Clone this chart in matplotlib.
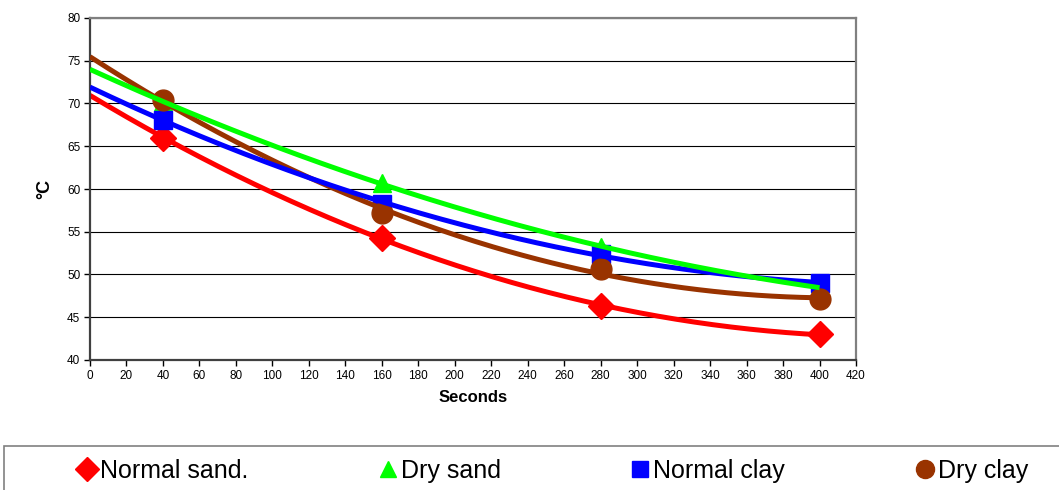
import numpy as np
import matplotlib
matplotlib.use("Agg")
import matplotlib.pyplot as plt
from matplotlib.lines import Line2D
from matplotlib.patches import Rectangle

plt.rcParams['font.family'] = ['Liberation Sans', 'DejaVu Sans']

# data
seconds = [40, 160, 280, 400]
normal_sand = [66.0, 54.3, 46.3, 43.0]
dry_sand = [70.2, 60.7, 53.2, 48.5]
normal_clay = [68.1, 58.3, 52.4, 49.0]
dry_clay = [70.4, 57.2, 50.6, 47.1]

series = [
    ("Normal sand.", normal_sand, "#ff0000", "D", 13, 2),
    ("Dry sand", dry_sand, "#00ff00", "^", 13, 5),
    ("Normal clay", normal_clay, "#0000ff", "s", 13, 4),
    ("Dry clay", dry_clay, "#993300", "o", 15, 3),
]

fig = plt.figure(figsize=(10.59, 4.9), dpi=100)
ax = fig.add_axes([90 / 1059, 1 - 360 / 490, 766 / 1059, 342 / 490])

x_fit = np.linspace(0, 400, 200)
handles = []
for name, vals, col, mk, ms, z in series:
    ax.plot(seconds, vals, linestyle='none', marker=mk, markersize=ms,
            color=col, zorder=1.5)
    # polynomial (2nd order) trend line, like the spreadsheet one
    coef = np.polyfit(seconds, vals, 2)
    ax.plot(x_fit, np.polyval(coef, x_fit), color=col, lw=3.6,
            zorder=z, solid_capstyle='butt')
    handles.append(Line2D([], [], linestyle='none', marker=mk, color=col,
                          markersize=12 if mk != 'o' else 13, label=name))

ax.set_xlim(0, 420)
ax.set_ylim(40, 80)
ax.set_xticks(np.arange(0, 421, 20))
ax.set_yticks(np.arange(40, 81, 5))
ax.tick_params(labelsize=8.5, direction='out', length=4, width=1,
               colors='#000000', pad=3)
ax.yaxis.grid(True, color='black', lw=0.8)
ax.set_axisbelow(True)

for s in ['left', 'bottom']:
    ax.spines[s].set_color('#404040')
    ax.spines[s].set_linewidth(1.6)
for s in ['top', 'right']:
    ax.spines[s].set_color('#808080')
    ax.spines[s].set_linewidth(1.6)

ax.set_xlabel("Seconds", fontsize=12, fontweight='bold', labelpad=6)
ax.set_ylabel("°C", fontsize=13, fontweight='bold', labelpad=10)

# legend box (runs off the bottom/right edge of the image)
fig.patches.append(Rectangle((4 / 1059, -0.2), 1.2, 0.2 + 1 - 446 / 490,
                             transform=fig.transFigure, facecolor='white',
                             edgecolor='#808080', lw=1.2))
fig.legend(handles=handles, loc='center left',
           bbox_to_anchor=(65 / 1059, 1 - 471 / 490), ncol=4, frameon=False,
           fontsize=18, handletextpad=0.05, columnspacing=5.1,
           handlelength=0.95, borderaxespad=0)

fig.savefig("out.png", dpi=100)
